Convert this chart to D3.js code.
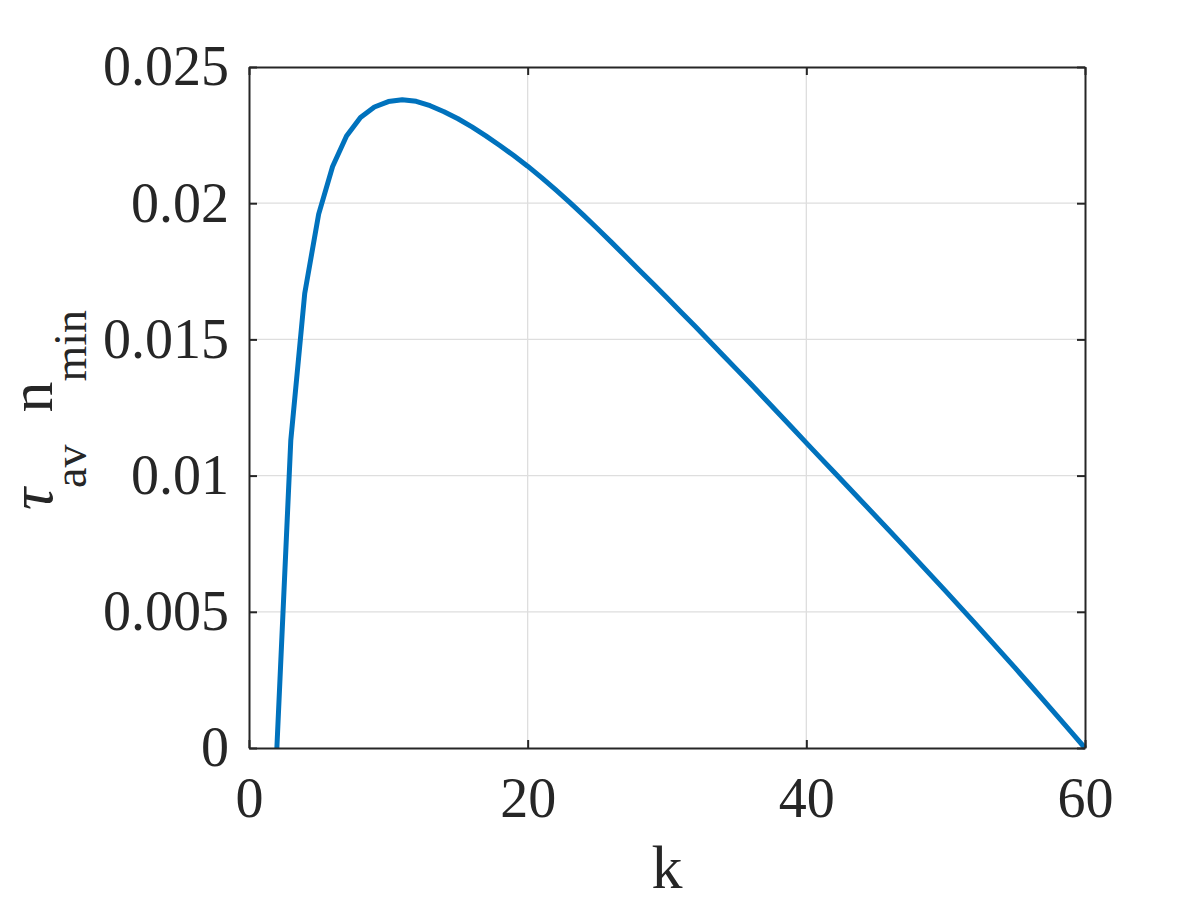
<html>
<head>
<script src="https://d3js.org/d3.v7.min.js"></script>
<style type="text/css">
  body { margin: 0; background: #fff; }
  text { font-family: "Liberation Serif", "Times New Roman", serif; fill: #262626; }
</style>
</head>
<body>
<div id="chart"></div>
<script type="text/javascript">

// data
const kValues = [2, 3, 4, 5, 6, 7, 8, 9, 10, 11, 12, 13, 14, 15, 16, 17, 18, 19, 20,
  21, 22, 23, 24, 25, 26, 27, 28, 29, 30, 31, 32, 33, 34, 35, 36, 37, 38, 39, 40,
  41, 42, 43, 44, 45, 46, 47, 48, 49, 50, 51, 52, 53, 54, 55, 56, 57, 58, 59, 60];
const tauValues = [0, 0.01130, 0.01669, 0.01960, 0.02135, 0.02247, 0.02315, 0.02353, 0.02373, 0.02380,
  0.02374, 0.02358, 0.02336, 0.02310, 0.02280, 0.02247, 0.02212, 0.02175, 0.02136,
  0.02094, 0.02050, 0.02004, 0.01956, 0.01907, 0.01857, 0.01806, 0.01755, 0.01704, 0.01653,
  0.01601, 0.01549, 0.01496, 0.01443, 0.01390, 0.01337, 0.01283, 0.01229, 0.01175, 0.01120,
  0.01066, 0.01012, 0.00958, 0.00904, 0.00850, 0.00796, 0.00741, 0.00686, 0.00631, 0.00576,
  0.00520, 0.00464, 0.00407, 0.00350, 0.00293, 0.00235, 0.00177, 0.00118, 0.00059, 0];
const xTicks = [0, 20, 40, 60];
const yTicks = [0, 0.005, 0.01, 0.015, 0.02, 0.025];
const yTickLabels = ["0", "0.005", "0.01", "0.015", "0.02", "0.025"];

const margin = {top: 67, right: 115, bottom: 152, left: 249},
    width = 1200 - margin.left - margin.right,
    height = 900 - margin.top - margin.bottom;

const svg = d3.select("#chart")
  .append("svg")
    .attr("width", 1200)
    .attr("height", 900)
  .append("g")
    .attr("transform", "translate(" + margin.left + "," + margin.top + ")");

const x = d3.scaleLinear().domain([0, 60]).range([0, width]);
const y = d3.scaleLinear().domain([0, 0.025]).range([height, 0]);

// grid
svg.append("g")
  .selectAll("line.gx")
  .data(xTicks.slice(1, -1))
  .enter().append("line")
    .attr("x1", d => x(d)).attr("x2", d => x(d))
    .attr("y1", 0).attr("y2", height)
    .attr("stroke", "#dedede").attr("stroke-width", 1.3);
svg.append("g")
  .selectAll("line.gy")
  .data(yTicks.slice(1, -1))
  .enter().append("line")
    .attr("x1", 0).attr("x2", width)
    .attr("y1", d => y(d)).attr("y2", d => y(d))
    .attr("stroke", "#dedede").attr("stroke-width", 1.3);

// curve
const data = kValues.map((k, i) => ({k: k, v: tauValues[i]}));
svg.append("path")
  .datum(data)
  .attr("fill", "none")
  .attr("stroke", "#0072BD")
  .attr("stroke-width", 5)
  .attr("stroke-linejoin", "round")
  .attr("d", d3.line().x(d => x(d.k)).y(d => y(d.v)));

// axes (ticks point inside, MATLAB style)
function styleAxis(g) {
  g.selectAll(".domain").attr("stroke", "#262626").attr("stroke-width", 2);
  g.selectAll(".tick line").attr("stroke", "#262626").attr("stroke-width", 2);
  g.selectAll(".tick text").attr("font-size", 56).attr("fill", "#262626")
    .style("font-family", "'Liberation Serif', 'Times New Roman', serif");
}

svg.append("g")
  .attr("transform", "translate(0," + height + ")")
  .call(d3.axisBottom(x).tickValues(xTicks).tickSize(-8).tickSizeOuter(0).tickPadding(29))
  .call(styleAxis);
svg.append("g")
  .call(d3.axisLeft(y).tickValues(yTicks).tickFormat((d, i) => yTickLabels[i])
    .tickSize(-8).tickSizeOuter(0).tickPadding(20))
  .call(styleAxis);
svg.append("g")
  .call(d3.axisTop(x).tickValues(xTicks).tickSize(-8).tickSizeOuter(0).tickFormat(""))
  .call(styleAxis);
svg.append("g")
  .attr("transform", "translate(" + width + ",0)")
  .call(d3.axisRight(y).tickValues(yTicks).tickSize(-8).tickSizeOuter(0).tickFormat(""))
  .call(styleAxis);

// labels
svg.append("text")
  .attr("x", width / 2)
  .attr("y", 888 - margin.top)
  .attr("text-anchor", "middle")
  .attr("font-size", 62)
  .text("k");

const yl = svg.append("text")
  .attr("transform", "translate(" + (52 - margin.left) + "," + (410 - margin.top) + ") rotate(-90)")
  .attr("text-anchor", "middle")
  .attr("font-size", 62);
yl.append("tspan").attr("font-style", "italic").text("τ");
yl.append("tspan").attr("font-size", 46).attr("dy", 34).text("av");
yl.append("tspan").attr("dy", -34).attr("dx", 32).text("n");
yl.append("tspan").attr("font-size", 46).attr("dy", 34).text("min");

</script>
</body>
</html>
